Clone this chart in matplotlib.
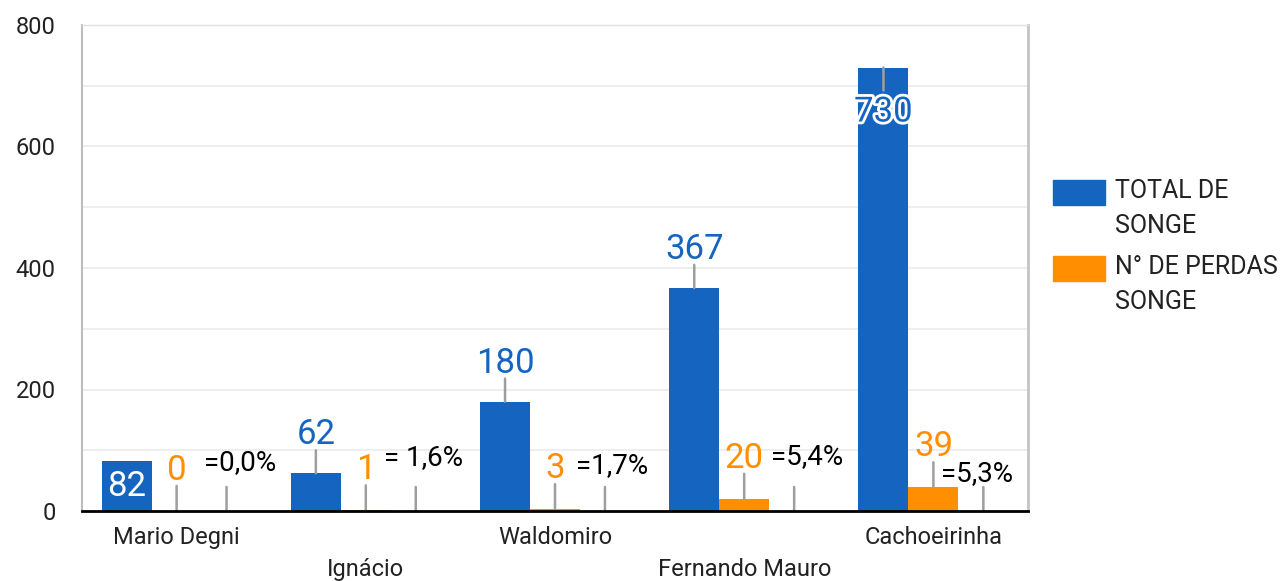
import matplotlib.pyplot as plt
import matplotlib.patheffects as pe
from matplotlib.patches import Rectangle
import numpy as np

plt.rcParams['font.family'] = ['Roboto', 'DejaVu Sans']

categorias = ["Mario Degni", "Ignácio", "Waldomiro", "Fernando Mauro", "Cachoeirinha"]
total_songe = [82, 62, 180, 367, 730]
perdas_songe = [0, 1, 3, 20, 39]
pct_labels = ["=0,0%", "= 1,6%", "=1,7%", "=5,4%", "=5,3%"]
pct_valores = [0, 0, 0, 0, 0]
legenda = ["TOTAL DE\nSONGE", "N° DE PERDAS\nSONGE"]

# onde fica o rotulo do total (como o Google Sheets desenhou)
pos_total = ["inside", "above", "above", "above", "below"]
# pequenos deslocamentos dos rotulos de percentual (px)
pct_dx = [14, 8, 7, 13, -6]
pct_dy = [48, 53, 45, 54, 37]

azul = "#1565c0"
laranja = "#ff8f00"
cinza = "#9e9e9e"

W, H = 1286, 581
fig = plt.figure(figsize=(W / 100, H / 100), dpi=100)
ax = fig.add_axes([82 / W, 1 - 511 / H, (1028 - 82) / W, (511 - 25) / H])

x = np.arange(len(categorias))
w = 0.264
b1 = ax.bar(x - w, total_songe, w, color=azul, zorder=2)
b2 = ax.bar(x, perdas_songe, w, color=laranja, zorder=2)

ax.set_xlim(-0.5, len(categorias) - 0.5)
ax.set_ylim(0, 800)
ax.set_yticks(range(0, 801, 200))
ax.set_yticks(range(0, 801, 100), minor=True)
ax.grid(axis="y", which="both", color="#ebebeb", lw=1.2, zorder=0)
ax.tick_params(axis="y", which="both", length=0, pad=19, labelsize=17, labelcolor="#222222")
ax.tick_params(axis="x", length=0, labelsize=17, pad=11, labelcolor="#222222")
ax.set_xticks(x)
ax.set_xticklabels(categorias)
for i, t in enumerate(ax.xaxis.get_major_ticks()):
    if i % 2 == 1:
        t.set_pad(34)

ax.spines["left"].set_color("#bdbdbd")
ax.spines["left"].set_linewidth(1.5)
ax.spines["right"].set_color("#c4c4c4")
ax.spines["right"].set_linewidth(2)
ax.spines["top"].set_color("#e0e0e0")
ax.spines["top"].set_linewidth(1)
ax.spines["bottom"].set_color("black")
ax.spines["bottom"].set_linewidth(2)
ax.spines["bottom"].set_zorder(4)


def leader(xp, yp, dy):
    ax.annotate("", xy=(xp, yp), xytext=(0, dy), textcoords="offset pixels",
                arrowprops=dict(arrowstyle="-", color=cinza, lw=1.8, shrinkA=0, shrinkB=0),
                zorder=3)


for i in range(len(categorias)):
    xb = x[i] - w
    v = total_songe[i]
    if pos_total[i] == "inside":
        ax.text(xb, v / 2, str(v), color="white", ha="center", va="center",
                fontsize=25, zorder=4)
    elif pos_total[i] == "above":
        leader(xb, v, 23)
        ax.annotate(str(v), xy=(xb, v), xytext=(0, 29), textcoords="offset pixels",
                    ha="center", va="baseline", fontsize=25, color=azul, zorder=4)
    else:
        leader(xb, v, -23)
        txt = ax.annotate(str(v), xy=(xb, v), xytext=(0, -28), textcoords="offset pixels",
                          ha="center", va="top", fontsize=25, color=azul, zorder=4)
        txt.set_path_effects([pe.withStroke(linewidth=4, foreground="white")])

    xo = x[i]
    vo = perdas_songe[i]
    leader(xo, vo, 25)
    ax.annotate(str(vo), xy=(xo, vo), xytext=(0, 31), textcoords="offset pixels",
                ha="center", va="baseline", fontsize=25, color=laranja, zorder=4)

    xp = x[i] + w
    vp = pct_valores[i]
    leader(xp, vp, 24)
    ax.annotate(pct_labels[i], xy=(xp, vp), xytext=(pct_dx[i], pct_dy[i]),
                textcoords="offset pixels", ha="center", va="center",
                fontsize=20, color="black", zorder=4)

# legenda no estilo do Google Sheets (caixa alinhada com a primeira linha)
for j, (lab, cor) in enumerate(zip(legenda, [azul, laranja])):
    top = 180 + j * 76
    fig.patches.append(Rectangle((1053 / W, 1 - (top + 25) / H), 52 / W, 25 / H,
                                 transform=fig.transFigure, color=cor))
    fig.text(1115 / W, 1 - (top - 1) / H, lab, ha="left", va="top",
             fontsize=18, linespacing=1.6, color="#222222")

fig.savefig("out.png", dpi=100)
